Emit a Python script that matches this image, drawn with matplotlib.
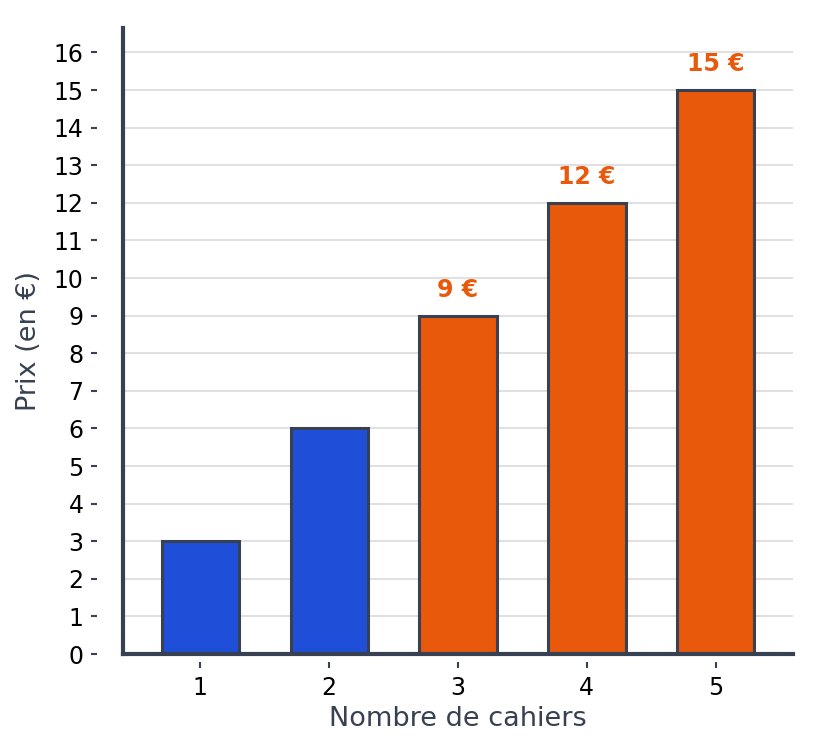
import matplotlib
matplotlib.use("Agg")
import matplotlib.pyplot as plt

# data
cahiers = [1, 2, 3, 4, 5]
prix = [3, 6, 9, 12, 15]
highlighted = [False, False, True, True, True]

BLUE = "#1f4fd8"
ORANGE = "#e8590c"
EDGE = "#374151"
GRID = "#d9dadd"

fig = plt.figure(figsize=(8.33, 7.52), dpi=100)
ax = fig.add_axes([0.1477, 0.1303, 0.8043, 0.8325])

colors = [ORANGE if h else BLUE for h in highlighted]
ax.bar(cahiers, prix, width=0.6, color=colors, edgecolor=EDGE, linewidth=2.2, zorder=3)

# value labels on the highlighted bars
for x, y, h in zip(cahiers, prix, highlighted):
    if h:
        ax.annotate(f"{y} €", (x, y), xytext=(0, 10), textcoords="offset points",
                    ha="center", va="bottom", color=ORANGE, fontsize=17,
                    fontweight="bold")

ax.set_xlim(0.4, 5.6)
ax.set_ylim(0, 16.65)
ax.set_xticks(cahiers)
ax.set_yticks(range(0, 17))
ax.yaxis.grid(True, color=GRID, linewidth=1.2, zorder=0)
ax.set_axisbelow(True)

# ticks detached from the axis lines
for side in ["top", "right"]:
    ax.spines[side].set_visible(False)
ax.spines["left"].set_position(("outward", 19))
ax.spines["bottom"].set_position(("outward", 6))
ax.spines["left"].set_visible(False)
ax.spines["bottom"].set_visible(False)
ax.axvline(0.4, color=EDGE, linewidth=3, zorder=4, clip_on=False)
ax.axhline(0, color=EDGE, linewidth=3, zorder=4, clip_on=False)

ax.tick_params(axis="both", direction="out", length=4.5, width=1.5, color=EDGE,
               labelsize=17, labelcolor="black")
ax.tick_params(axis="x", pad=5)
ax.tick_params(axis="y", pad=5)

ax.set_xlabel("Nombre de cahiers", fontsize=19.5, color=EDGE, labelpad=5)
ax.set_ylabel("Prix (en €)", fontsize=19.5, color=EDGE, labelpad=8)

fig.savefig("out.png", dpi=100)
